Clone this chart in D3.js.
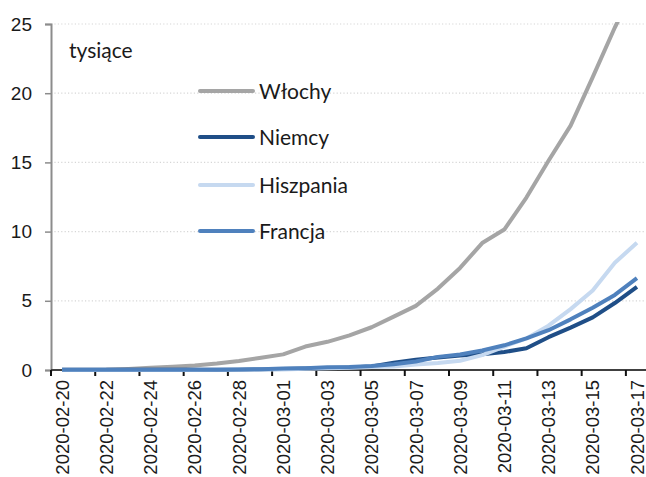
<!DOCTYPE html>
<html>
<head>
<meta charset="utf-8">
<script src="https://cdn.jsdelivr.net/npm/d3@7"></script>
<style>
  html, body { margin: 0; padding: 0; background: #ffffff; }
  svg { display: block; }
</style>
</head>
<body>
<div id="chart"></div>
<script>
// Daily dates on the category axis
const dates = [
  "2020-02-20","2020-02-21","2020-02-22","2020-02-23","2020-02-24","2020-02-25",
  "2020-02-26","2020-02-27","2020-02-28","2020-02-29","2020-03-01","2020-03-02",
  "2020-03-03","2020-03-04","2020-03-05","2020-03-06","2020-03-07","2020-03-08",
  "2020-03-09","2020-03-10","2020-03-11","2020-03-12","2020-03-13","2020-03-14",
  "2020-03-15","2020-03-16","2020-03-17"
];

// Cumulative confirmed cases, thousands
const wlochy = [0.003, 0.003, 0.02, 0.079, 0.157, 0.229, 0.323, 0.47, 0.655, 0.889,
  1.128, 1.694, 2.036, 2.502, 3.089, 3.858, 4.636, 5.883, 7.375, 9.172,
  10.149, 12.462, 15.113, 17.66, 21.157, 24.747, 27.98];
const niemcy = [0.016, 0.016, 0.016, 0.016, 0.016, 0.016, 0.016, 0.018, 0.026, 0.053,
  0.066, 0.117, 0.15, 0.188, 0.26, 0.53, 0.75, 0.9, 1.05, 1.14,
  1.3, 1.57, 2.37, 3.06, 3.8, 4.84, 6.01];
const hiszpania = [0.002, 0.002, 0.002, 0.002, 0.002, 0.002, 0.006, 0.013, 0.015, 0.032,
  0.045, 0.084, 0.12, 0.165, 0.222, 0.259, 0.4, 0.5, 0.673, 1.073,
  1.695, 2.277, 3.2, 4.4, 5.75, 7.75, 9.19];
const francja = [0.012, 0.012, 0.012, 0.012, 0.012, 0.012, 0.014, 0.018, 0.038, 0.057,
  0.1, 0.13, 0.191, 0.212, 0.285, 0.423, 0.613, 0.949, 1.126, 1.412,
  1.784, 2.281, 2.876, 3.661, 4.499, 5.423, 6.633];

const seriesNames = ["Włochy", "Niemcy", "Hiszpania", "Francja"];
const seriesColors = ["#a5a5a5", "#1f4e87", "#c6d9f0", "#4f81bd"];
const yTicks = [0, 5, 10, 15, 20, 25];
const unitLabel = "tysiące";

const series = [wlochy, niemcy, hiszpania, francja].map((vals, i) => ({
  name: seriesNames[i],
  color: seriesColors[i],
  values: vals.map((v, j) => ({ date: dates[j], value: v }))
}));

const W = 646, H = 477;
const plotLeft = 51, plotRight = 648, plotTop = 24, plotBottom = 370;

const svg = d3.select("#chart").append("svg")
  .attr("width", W).attr("height", H);

const x = d3.scaleBand().domain(dates).range([plotLeft, plotRight]).padding(0);
const y = d3.scaleLinear().domain([0, 25]).range([plotBottom, plotTop]);

// Dotted horizontal gridlines
svg.append("g")
  .selectAll("line")
  .data(yTicks.filter(t => t > 0))
  .join("line")
  .attr("x1", plotLeft).attr("x2", W)
  .attr("y1", d => y(d)).attr("y2", d => y(d))
  .attr("stroke", "#d6d6d6")
  .attr("stroke-width", 1.2)
  .attr("stroke-dasharray", "1.2,2.2");

// Y axis
const yAxis = svg.append("g")
  .attr("transform", `translate(${plotLeft},0)`)
  .call(d3.axisLeft(y).tickValues(yTicks).tickSize(6).tickPadding(13).tickFormat(d3.format("d")));
yAxis.select(".domain").attr("stroke", "#8c8c8c").attr("stroke-width", 2);
yAxis.selectAll(".tick line").attr("stroke", "#8c8c8c").attr("stroke-width", 1.5);
yAxis.selectAll("text")
  .attr("fill", "#1a1a1a")
  .style("font-family", "'Liberation Sans', Arial, sans-serif")
  .style("font-size", "19px");

// X axis baseline with ticks every second category boundary
svg.append("line")
  .attr("x1", plotLeft).attr("x2", W)
  .attr("y1", plotBottom).attr("y2", plotBottom)
  .attr("stroke", "#404040").attr("stroke-width", 2);

svg.append("g")
  .selectAll("line")
  .data(dates.filter((d, i) => i % 2 === 0))
  .join("line")
  .attr("x1", d => x(d)).attr("x2", d => x(d))
  .attr("y1", plotBottom).attr("y2", plotBottom + 6)
  .attr("stroke", "#111111").attr("stroke-width", 2);

svg.append("g")
  .selectAll("text")
  .data(dates.filter((d, i) => i % 2 === 0))
  .join("text")
  .attr("transform", d => `translate(${x(d) + x.bandwidth() / 2},${plotBottom + 10}) rotate(-90)`)
  .attr("text-anchor", "end")
  .attr("dy", "0.36em")
  .attr("fill", "#1a1a1a")
  .style("font-family", "'Liberation Sans', Arial, sans-serif")
  .style("font-size", "18.5px")
  .text(d => d);

// Lines, clipped to the plotting area
svg.append("clipPath").attr("id", "plot-clip")
  .append("rect").attr("x", plotLeft).attr("y", plotTop - 2)
  .attr("width", W - plotLeft).attr("height", plotBottom - plotTop + 10);

const line = d3.line()
  .x(d => x(d.date) + x.bandwidth() / 2)
  .y(d => y(d.value));

svg.append("g").attr("clip-path", "url(#plot-clip)")
  .selectAll("path")
  .data(series)
  .join("path")
  .attr("d", d => line(d.values))
  .attr("fill", "none")
  .attr("stroke", d => d.color)
  .attr("stroke-width", 4)
  .attr("stroke-linejoin", "round");

// Unit label
svg.append("text")
  .attr("x", 69).attr("y", 58)
  .attr("fill", "#1a1a1a")
  .style("font-family", "Lato, sans-serif")
  .style("font-size", "21px")
  .text(unitLabel);

// Legend
const legendY = [91, 137, 185, 231];
const legend = svg.append("g").selectAll("g")
  .data(series)
  .join("g")
  .attr("transform", (d, i) => `translate(200,${legendY[i]})`);
legend.append("line")
  .attr("x1", 0).attr("x2", 53)
  .attr("stroke", d => d.color)
  .attr("stroke-width", 4)
  .attr("stroke-linecap", "round");
legend.append("text")
  .attr("x", 59).attr("dy", "0.36em")
  .attr("fill", "#1a1a1a")
  .style("font-family", "Lato, sans-serif")
  .style("font-size", "21px")
  .text(d => d.name);
</script>
</body>
</html>
